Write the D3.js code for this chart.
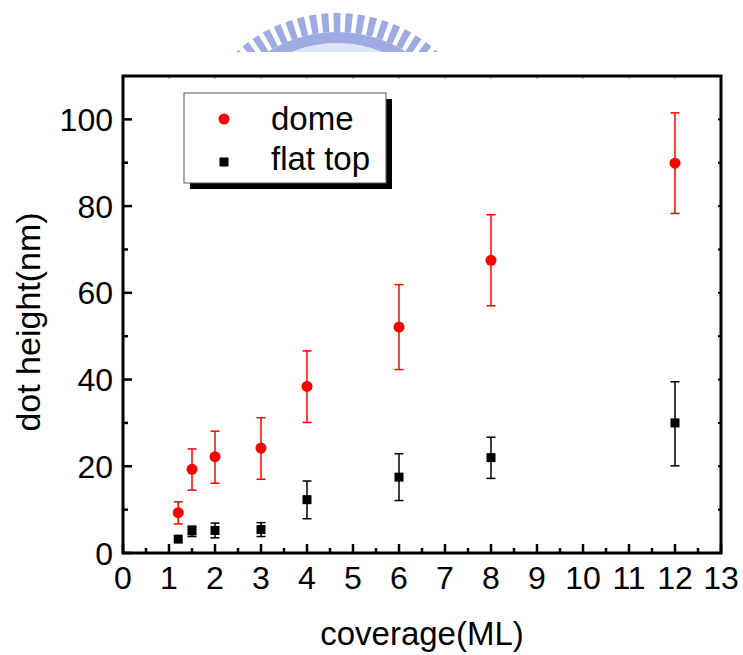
<!DOCTYPE html>
<html><head><meta charset="utf-8">
<script src="https://cdn.jsdelivr.net/npm/d3@7"></script>
<style>body{margin:0;background:#fff}svg{display:block}text{font-family:"Liberation Sans",Arial,sans-serif}</style>
</head><body><svg id="c" width="743" height="655"></svg>
<script>
const coverage = [1.2, 1.5, 2, 3, 4, 6, 8, 12];
const domeHeight = [9.3, 19.3, 22.2, 24.2, 38.4, 52.1, 67.5, 89.9];
const domeErrLow = [6.7, 14.5, 16.1, 17.0, 30.1, 42.3, 57.0, 78.3];
const domeErrHigh = [11.8, 24.0, 28.1, 31.2, 46.6, 61.9, 78.0, 101.5];
const flatHeight = [3.2, 5.1, 5.2, 5.4, 12.3, 17.5, 22.0, 30.0];
const flatErrLow = [3.2, 3.8, 3.5, 3.8, 7.9, 12.1, 17.2, 20.1];
const flatErrHigh = [3.2, 6.2, 6.9, 7.0, 16.6, 22.9, 26.7, 39.5];
const xTicks = [0,1,2,3,4,5,6,7,8,9,10,11,12,13];
const yTicks = [0,20,40,60,80,100];
const legendLabels = ["dome", "flat top"];

const svg = d3.select("#c");
const L=123, R=721, T=76, B=553;
const x = d3.scaleLinear().domain([0,13]).range([L,R]);
const y = d3.scaleLinear().domain([0,110]).range([B,T]);

// watermark (decorative logo arc)
const wm = svg.append("g");
const cx=337, cy=163, r0=100, r1=120, r2=131, r3=150;
const span=0.78;
const band = d3.arc().innerRadius(r1).outerRadius(r2).startAngle(-span).endAngle(span);
const inner = d3.arc().innerRadius(r0).outerRadius(r1).startAngle(-span).endAngle(span);
wm.append("path").attr("transform",`translate(${cx},${cy})`).attr("d",inner()).attr("fill","#dfe4f7");
wm.append("path").attr("transform",`translate(${cx},${cy})`).attr("d",band()).attr("fill","#9eaae2");
const nT=19;
for(let i=0;i<nT;i++){
  const a=-span+(2*span)*(i+0.5)/nT - Math.PI/2;
  const w=0.024;
  const p=d3.path();
  p.moveTo(cx+r2*Math.cos(a-w),cy+r2*Math.sin(a-w));
  p.lineTo(cx+r3*Math.cos(a-w),cy+r3*Math.sin(a-w));
  p.lineTo(cx+r3*Math.cos(a+w),cy+r3*Math.sin(a+w));
  p.lineTo(cx+r2*Math.cos(a+w),cy+r2*Math.sin(a+w));
  p.closePath();
  wm.append("path").attr("d",p.toString()).attr("fill","#9eaae2");
}
svg.append("rect").attr("x",0).attr("y",52).attr("width",743).attr("height",130).attr("fill","#fff");

// ticks
const g = svg.append("g").attr("stroke","#000");
const xMinor = d3.range(0.5,13,1);
xTicks.forEach(t=>{ g.append("line").attr("x1",x(t)).attr("x2",x(t)).attr("y1",B).attr("y2",B-9).attr("stroke-width",2.5);
  g.append("line").attr("x1",x(t)).attr("x2",x(t)).attr("y1",T).attr("y2",T+3).attr("stroke-width",1).attr("stroke","#888");});
xMinor.forEach(t=>{ g.append("line").attr("x1",x(t)).attr("x2",x(t)).attr("y1",B).attr("y2",B-5).attr("stroke-width",2.5);});
yTicks.forEach(t=>{ g.append("line").attr("x1",L).attr("x2",L+9).attr("y1",y(t)).attr("y2",y(t)).attr("stroke-width",2.5);});
d3.range(10,110,20).forEach(t=>{ g.append("line").attr("x1",L).attr("x2",L+5).attr("y1",y(t)).attr("y2",y(t)).attr("stroke-width",2.5);});
d3.range(10,110,10).forEach(t=>{ g.append("line").attr("x1",R).attr("x2",R-3).attr("y1",y(t)).attr("y2",y(t)).attr("stroke-width",2);});

// frame
svg.append("rect").attr("x",L).attr("y",T).attr("width",R-L).attr("height",B-T).attr("fill","none").attr("stroke","#000").attr("stroke-width",3);

// tick labels
svg.append("g").selectAll("text").data(xTicks).join("text").attr("x",d=>x(d)).attr("y",589).attr("text-anchor","middle").attr("font-size",32).text(d=>d);
svg.append("g").selectAll("text").data(yTicks).join("text").attr("x",113).attr("y",d=>y(d)+11.5).attr("text-anchor","end").attr("font-size",32).text(d=>d);

// axis titles
svg.append("text").attr("x",422).attr("y",645).attr("text-anchor","middle").attr("font-size",33).text("coverage(ML)");
svg.append("text").attr("transform","translate(40,322) rotate(-90)").attr("text-anchor","middle").attr("font-size",34).text("dot height(nm)");

// error bars
function errBars(hi, lo, color){
  const eg = svg.append("g").attr("stroke",color).attr("stroke-width",1.5);
  coverage.forEach((c,i)=>{
    if(hi[i]-lo[i] < 0.5) return;
    eg.append("line").attr("x1",x(c)).attr("x2",x(c)).attr("y1",y(hi[i])).attr("y2",y(lo[i]));
    [hi[i],lo[i]].forEach(v=>eg.append("line").attr("x1",x(c)-4.5).attr("x2",x(c)+4.5).attr("y1",y(v)).attr("y2",y(v)));
  });
}
errBars(domeErrHigh, domeErrLow, "#f00");
errBars(flatErrHigh, flatErrLow, "#000");

svg.append("g").selectAll("circle").data(coverage).join("circle").attr("cx",d=>x(d)).attr("cy",(d,i)=>y(domeHeight[i])).attr("r",5.5).attr("fill","#f00");
svg.append("g").selectAll("rect").data(coverage).join("rect").attr("x",d=>x(d)-4.5).attr("y",(d,i)=>y(flatHeight[i])-4.5).attr("width",9).attr("height",9).attr("fill","#000");

// legend
const lg = svg.append("g");
lg.append("rect").attr("x",190).attr("y",99).attr("width",202).attr("height",90).attr("fill","#000");
lg.append("rect").attr("x",184).attr("y",93).attr("width",202).attr("height",90).attr("fill","#fff").attr("stroke","#555").attr("stroke-width",1);
lg.append("circle").attr("cx",224).attr("cy",119).attr("r",5.5).attr("fill","#f00");
lg.append("rect").attr("x",219.5).attr("y",157.5).attr("width",9).attr("height",9).attr("fill","#000");
lg.selectAll("text").data(legendLabels).join("text").attr("x",271).attr("y",(d,i)=>130+i*40).attr("font-size",33).text(d=>d);
</script></body></html>
